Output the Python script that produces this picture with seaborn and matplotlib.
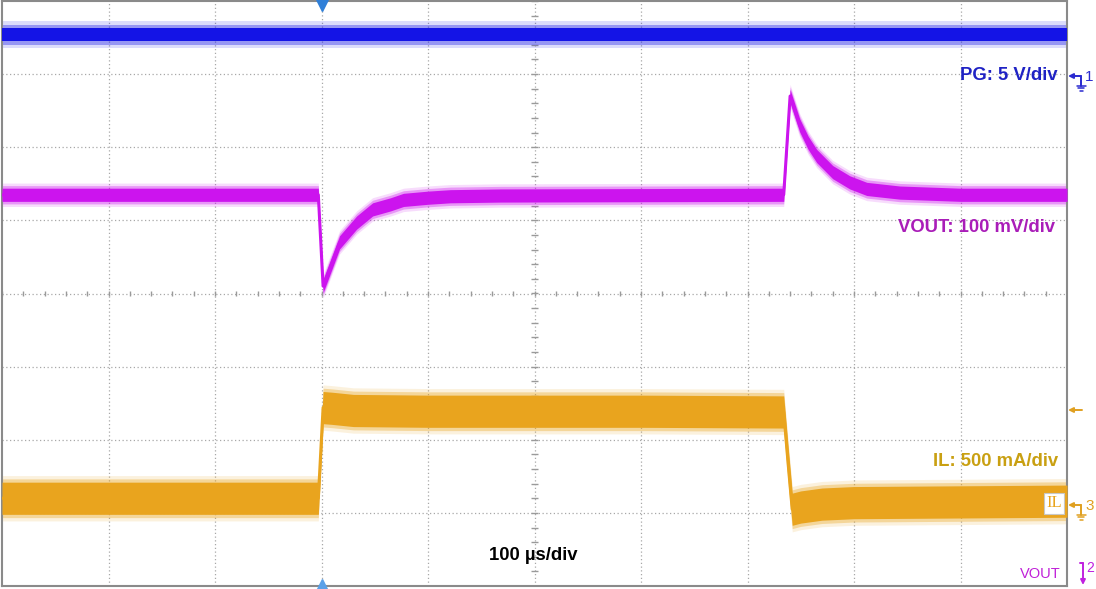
import numpy as np
import seaborn as sns
import matplotlib.pyplot as plt
from matplotlib.lines import Line2D
from matplotlib.patches import FancyArrowPatch

# time in µs (10 div x 100 µs/div), amplitude in screen divisions (8 div)
pg_t = [0, 1000]
pg_v = [3.54, 3.54]

vout_t = [0, 297, 301.5, 317, 333, 348, 365, 377, 400, 421, 468,
          734, 740, 749, 757, 765, 780, 796, 812, 843, 900, 1000]
vout_v = [1.35, 1.35, 0.10, 0.70, 0.97, 1.15, 1.22, 1.28, 1.31, 1.33, 1.34,
          1.35, 2.70, 2.30, 2.06, 1.88, 1.66, 1.52, 1.43, 1.38, 1.35, 1.35]

il_t = [0, 297, 301.5, 310, 330, 400, 600, 734, 738, 742, 750, 770, 800, 1000]
il_v = [-2.80, -2.80, -1.56, -1.57, -1.60, -1.61, -1.61, -1.62, -2.30, -2.95,
        -2.92, -2.88, -2.86, -2.84]

ch_labels = ["PG: 5 V/div", "VOUT: 100 mV/div", "IL: 500 mA/div"]
time_label = "100 µs/div"

BLUE = "#1414e6"
MAGENTA = "#cc14ee"
ORANGE = "#e9a41e"

sns.set_theme(style="white")
plt.rcParams['font.family'] = ['Liberation Sans', 'DejaVu Sans']

W, H = 1096, 589
fig = plt.figure(figsize=(W / 100, H / 100), dpi=100)
ax = fig.add_axes([2 / W, 3 / H, 1065 / W, 585 / H])
ax.set_xlim(0, 1000)
ax.set_ylim(-4, 4)
ax.set_xticks([])
ax.set_yticks([])
for s in ax.spines.values():
    s.set_color("#8a8a8a")
    s.set_linewidth(1.5)

# scope graticule
for x in range(100, 1000, 100):
    ax.axvline(x, color="#a8a8a8", lw=0.9, ls=(0, (1, 2)), zorder=0)
for y in range(-3, 4):
    ax.axhline(y, color="#a8a8a8", lw=0.9, ls=(0, (1, 2)), zorder=0)
ax.vlines(np.arange(0, 1001, 20), -0.04, 0.04, color="#9a9a9a", lw=1, zorder=0)
ax.hlines(np.arange(-4, 4.01, 0.2), 497, 503, color="#9a9a9a", lw=1, zorder=0)


def trace(t, v, color, core, outer):
    t = np.asarray(t, dtype=float)
    v = np.asarray(v, dtype=float)
    mid = (core + outer) / 2
    ax.fill_between(t, v - outer, v + outer, color=color, alpha=0.15, lw=0, zorder=2)
    ax.fill_between(t, v - mid, v + mid, color=color, alpha=0.35, lw=0, zorder=2)
    sns.lineplot(x=t, y=v, color=color, lw=2.2, ax=ax, zorder=3)
    ax.fill_between(t, v - core, v + core, color=color, alpha=1.0, lw=0, zorder=4)


trace(pg_t, pg_v, BLUE, 0.09, 0.18)
trace(vout_t, vout_v, MAGENTA, 0.09, 0.16)
trace(il_t, il_v, ORANGE, 0.22, 0.31)

# trigger position markers
ax.plot([300], [3.94], marker="v", ms=8, color="#2f7fd8", clip_on=False, zorder=6)
ax.plot([300], [-3.97], marker="^", ms=7, color="#5aa0e8", clip_on=False, zorder=6)


def fp(x, y):
    return (x / W, 1 - y / H)


def label(x, y, s, color, size=13.3, ha="right", weight="bold", **kw):
    fig.text(*fp(x, y), s, color=color, fontsize=size, ha=ha, va="center",
             fontweight=weight, **kw)


label(1058, 75, ch_labels[0], "#1f22c4")
label(1055, 228, ch_labels[1], "#a91db8")
label(1058, 462, ch_labels[2], "#c9a012")
label(533, 555, time_label, "black", ha="center")
label(1061, 574, "VOUT", "#c020d8", size=10.5, weight="normal")
fig.text(*fp(1054, 503), "IL", color=ORANGE, fontsize=12, ha="center", va="center",
         family="Liberation Serif",
         bbox=dict(boxstyle="square,pad=0.15", fc="white", ec="#c8c8c8", lw=0.8))


def seg(x0, y0, x1, y1, color, lw=1.4):
    a, b = fp(x0, y0), fp(x1, y1)
    fig.add_artist(Line2D([a[0], b[0]], [a[1], b[1]], color=color, lw=lw,
                          transform=fig.transFigure))


def arrow(x0, y0, x1, y1, color):
    fig.add_artist(FancyArrowPatch(
        fp(x0, y0), fp(x1, y1), transform=fig.transFigure, arrowstyle="-|>",
        mutation_scale=7, color=color, lw=1.4, shrinkA=0, shrinkB=0))


def chan_marker(y, num, color):
    arrow(1081, y, 1068, y, color)
    seg(1081, y, 1081, y + 10, color)
    for i, w in enumerate([4.5, 3, 1.5]):
        seg(1081 - w, y + 10 + 2.3 * i, 1081 + w, y + 10 + 2.3 * i, color, lw=1.1)
    fig.text(*fp(1085, y + 1), num, color=color, fontsize=11, va="center", ha="left")


chan_marker(76, "1", "#2a2ad0")
chan_marker(505, "3", "#e0a020")
arrow(1082, 410, 1068, 410, "#e0a020")
seg(1080, 563, 1083, 563, "#c020e0")
arrow(1083, 563, 1083, 585, "#c020e0")
fig.text(*fp(1086, 568), "2", color="#c020e0", fontsize=10, va="center", ha="left")

fig.savefig("out.png", dpi=100)
